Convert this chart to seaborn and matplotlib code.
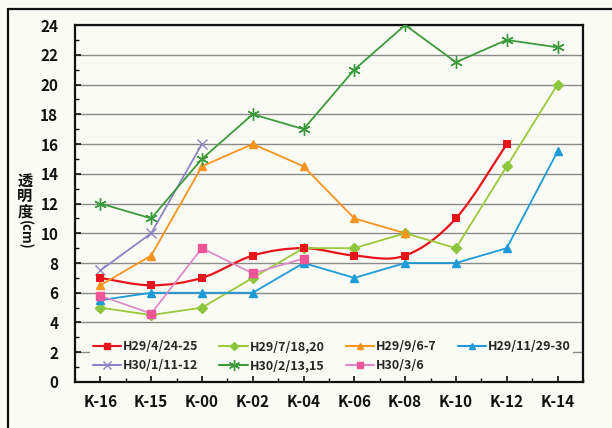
import numpy as np
import pandas as pd
import matplotlib
matplotlib.use("Agg")
import matplotlib.pyplot as plt
import seaborn as sns
from matplotlib.path import Path
from matplotlib.patches import PathPatch
from matplotlib.lines import Line2D
from matplotlib.ticker import MultipleLocator

# stations along the river
stations = ["K-16", "K-15", "K-00", "K-02", "K-04", "K-06", "K-08", "K-10", "K-12", "K-14"]

# transparency (cm) per survey date
h29_04 = [7, 6.5, 7, 8.5, 9, 8.5, 8.5, 11, 16, np.nan]
h29_07 = [5, 4.5, 5, 7, 9, 9, 10, 9, 14.5, 20]
h29_09 = [6.5, 8.5, 14.5, 16, 14.5, 11, 10, np.nan, np.nan, np.nan]
h29_11 = [5.5, 6, 6, 6, 8, 7, 8, 8, 9, 15.5]
h30_01 = [7.5, 10, 16, np.nan, np.nan, np.nan, np.nan, np.nan, np.nan, np.nan]
h30_02 = [12, 11, 15, 18, 17, 21, 24, 21.5, 23, 22.5]
h30_03 = [5.8, 4.6, 9, 7.3, 8.3, np.nan, np.nan, np.nan, np.nan, np.nan]

labels = ["H29/4/24-25", "H29/7/18,20", "H29/9/6-7", "H29/11/29-30",
          "H30/1/11-12", "H30/2/13,15", "H30/3/6"]
series = [h29_04, h29_07, h29_09, h29_11, h30_01, h30_02, h30_03]

line_colors = ["#e8141c", "#9cc83a", "#f7941d", "#1e9ad6", "#8e84c4", "#3c9a3c", "#d98cc6"]
marker_colors = ["#e8141c", "#8cc63f", "#f7941d", "#1e9ad6", "#8e84c4", "#3c9a3c", "#ee5596"]
markers = ["s", "D", "^", "^", "x", (6, 2, 0), "s"]
msizes = [6, 5.5, 6, 6, 7, 9, 6]

rows = []
for lab, vals in zip(labels, series):
    for st, v in zip(stations, vals):
        rows.append({"station": st, "value": v, "date": lab})
df = pd.DataFrame(rows).dropna()

sns.set_theme(style="white")
plt.rcParams["font.family"] = ["Noto Sans CJK JP", "DejaVu Sans"]
bg = "#fbfbf6"
ink = "#111111"

fig = plt.figure(figsize=(6.12, 4.28), dpi=100, facecolor=bg)
ax = fig.add_axes([0.1225, 0.1075, 0.83, 0.834])
ax.set_facecolor(bg)

xpos = {s: i for i, s in enumerate(stations)}
df["x"] = df["station"].map(xpos)

for i, lab in enumerate(labels):
    sub = df[df["date"] == lab]
    if i == 0:
        # smoothed line (Excel-style bezier through the points)
        pts = sub[["x", "value"]].to_numpy(dtype=float)
        verts = [tuple(pts[0])]
        codes = [Path.MOVETO]
        n = len(pts)
        for k in range(n - 1):
            p0 = pts[max(k - 1, 0)]
            p1 = pts[k]
            p2 = pts[k + 1]
            p3 = pts[min(k + 2, n - 1)]
            c1 = p1 + (p2 - p0) / 6
            c2 = p2 - (p3 - p1) / 6
            verts += [tuple(c1), tuple(c2), tuple(p2)]
            codes += [Path.CURVE4] * 3
        ax.add_patch(PathPatch(Path(verts, codes), facecolor="none",
                               edgecolor=line_colors[0], lw=1.6, zorder=3))
        sns.scatterplot(data=sub, x="x", y="value", ax=ax, marker="s", s=36,
                        color=marker_colors[0], edgecolor=marker_colors[0],
                        linewidth=0, zorder=4, legend=False)
    else:
        sns.lineplot(data=sub, x="x", y="value", ax=ax, sort=False,
                     color=line_colors[i], lw=1.3, marker=markers[i],
                     markersize=msizes[i], markerfacecolor=marker_colors[i],
                     markeredgecolor=marker_colors[i], markeredgewidth=1.0,
                     legend=False, zorder=3)

ax.set_xlim(-0.5, len(stations) - 0.5)
ax.set_ylim(0, 24)
ax.set_xticks(range(len(stations)))
ax.set_xticklabels(stations)
ax.xaxis.set_minor_locator(MultipleLocator(0.5))
ax.yaxis.set_major_locator(MultipleLocator(2))
ax.yaxis.set_minor_locator(MultipleLocator(1))
ax.set_xlabel("")
ax.set_ylabel("")
ax.grid(axis="y", which="major", color="#8a8a8a", lw=1.0)
ax.set_axisbelow(True)
ax.tick_params(axis="both", which="both", direction="in", colors=ink,
               labelsize=11, left=True, bottom=True)
ax.tick_params(axis="both", which="major", length=4, width=1.2)
ax.tick_params(axis="both", which="minor", length=3, width=1.0)
ax.tick_params(axis="y", pad=12)
ax.tick_params(axis="x", pad=9)
for t in ax.get_xticklabels() + ax.get_yticklabels():
    t.set_fontweight("bold")
for sp in ax.spines.values():
    sp.set_visible(True)
    sp.set_color(ink)
    sp.set_linewidth(1.6)

# y label: vertical Japanese text
fig.text(25 / 612, 1 - 196 / 428, "透\n明\n度", ha="center", va="center",
         fontsize=11, linespacing=0.95, weight="bold", color=ink)
fig.text(25 / 612, 1 - 235 / 428, "(cm)", ha="center", va="center", rotation=-90,
         fontsize=9.5, weight="bold", color=ink)

# legend, row-major order
handles = [Line2D([], [], color=line_colors[i], lw=1.5, marker=markers[i],
                  markersize=msizes[i] - 1, markerfacecolor=marker_colors[i],
                  markeredgecolor=marker_colors[i]) for i in range(len(labels))]
order = [0, 4, 1, 5, 2, 6, 3]
leg = ax.legend([handles[i] for i in order], [labels[i] for i in order], ncol=4,
                loc="lower left", bbox_to_anchor=(0.03, 0.02, 0.95, 0.15),
                mode="expand", frameon=True, prop={"size": 9, "weight": "bold"},
                handlelength=2.3, handletextpad=0.1, columnspacing=1.2,
                labelspacing=0.5, borderpad=0.2, borderaxespad=0)
leg.get_frame().set_facecolor(bg)
leg.get_frame().set_edgecolor("none")
leg.get_frame().set_alpha(1)

# outer border of the chart area
fig.add_artist(Line2D([8 / 612, 8 / 612], [0, 1 - 9 / 428], color=ink,
                      lw=1.6, transform=fig.transFigure))
fig.add_artist(Line2D([8 / 612, 1], [1 - 9 / 428, 1 - 9 / 428], color=ink,
                      lw=1.6, transform=fig.transFigure))

fig.savefig("out.png", dpi=100, facecolor=bg)
